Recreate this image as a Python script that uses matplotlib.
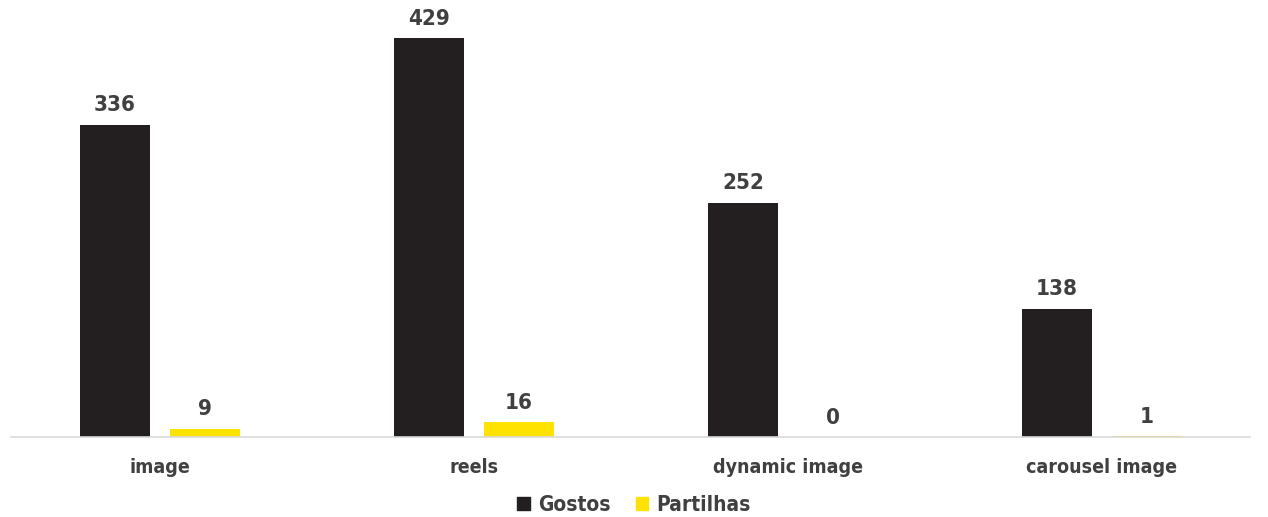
import matplotlib
matplotlib.use("Agg")
import matplotlib.pyplot as plt
import numpy as np
from matplotlib.patches import Patch

categories = ["image", "reels", "dynamic image", "carousel image"]
gostos = [336, 429, 252, 138]
partilhas = [9, 16, 0, 1]
series_names = ["Gostos", "Partilhas"]

BLACK = "#231f20"
YELLOW = "#ffe200"
TEXT = "#404040"
FONT = ["DejaVu Sans"]

plt.rcParams["font.family"] = FONT
plt.rcParams["font.stretch"] = "condensed"

fig = plt.figure(figsize=(12.68, 5.17), dpi=100)
ax = fig.add_axes([3 / 1268, 80 / 517, 1256 / 1268, 437 / 517])

x = np.arange(len(categories))
w = 0.223
off = 0.143
b1 = ax.bar(x - off, gostos, w, color=BLACK)
b2 = ax.bar(x + off, partilhas, w, color=YELLOW)

# value labels above every bar
for bars, vals in ((b1, gostos), (b2, partilhas)):
    for r, v in zip(bars, vals):
        ax.text(r.get_x() + r.get_width() / 2, v + 10, str(v), ha="center", va="bottom",
                fontsize=16, fontweight="bold", color=TEXT, fontstretch="condensed")

ax.set_xlim(-0.5, len(categories) - 0.5)
ax.set_ylim(0, 470)
ax.set_yticks([])
ax.set_xticks(x)
ax.set_xticklabels(categories, fontsize=14, fontweight="bold", color=TEXT,
                   fontstretch="condensed")
ax.tick_params(axis="x", length=0, pad=15)
for s in ["top", "right", "left"]:
    ax.spines[s].set_visible(False)
ax.spines["bottom"].set_color("#d9d9d9")
ax.spines["bottom"].set_linewidth(1.2)
ax.spines["bottom"].set_bounds(-0.475, 3.47)

handles = [Patch(color=BLACK), Patch(color=YELLOW)]
fig.legend(handles, series_names, loc="center", bbox_to_anchor=(0.5, 12 / 517),
           ncol=2, frameon=False, handlelength=0.6, handleheight=0.6,
           handletextpad=0.4, columnspacing=1.2,
           prop={"size": 15, "weight": "bold", "family": FONT, "stretch": "condensed"},
           labelcolor=TEXT)

fig.savefig("out.png", dpi=100)
